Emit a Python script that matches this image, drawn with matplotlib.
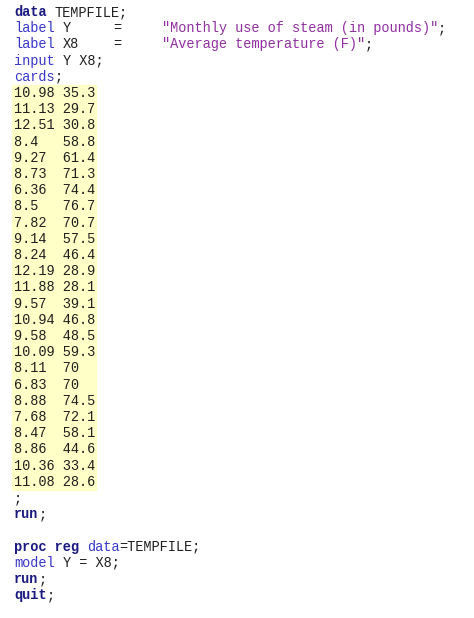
import matplotlib.pyplot as plt
from matplotlib.patches import Rectangle

# data values listed in the cards block
y_vals = ["10.98", "11.13", "12.51", "8.4", "9.27", "8.73", "6.36", "8.5", "7.82",
          "9.14", "8.24", "12.19", "11.88", "9.57", "10.94", "9.58", "10.09", "8.11",
          "6.83", "8.88", "7.68", "8.47", "8.86", "10.36", "11.08"]
x8_vals = ["35.3", "29.7", "30.8", "58.8", "61.4", "71.3", "74.4", "76.7", "70.7",
           "57.5", "46.4", "28.9", "28.1", "39.1", "46.8", "48.5", "59.3", "70",
           "70", "74.5", "72.1", "58.1", "44.6", "33.4", "28.6"]

NAVY = "#1a1a80"
BLUE = "#3838c8"
PURPLE = "#9030a0"
BLACK = "#202020"
CW = 8.1          # character width in pixels
X0 = 14
Y0 = 12
LH = 16.2
FS = 9.8
FONT = ["Liberation Mono", "DejaVu Sans Mono", "monospace"]

fig = plt.figure(figsize=(4.74, 6.18), dpi=100)
ax = fig.add_axes([0, 0, 1, 1])
ax.set_xlim(0, 474)
ax.set_ylim(618, 0)
ax.axis("off")


def put(line, segs):
    y = Y0 + LH * line
    for x, txt, color, bold in segs:
        ax.text(x, y, txt, color=color, fontsize=FS, family=FONT,
                fontweight="bold" if bold else "normal", va="center", ha="left")


put(0, [(X0, "data", NAVY, True), (X0 + 5 * CW, "TEMPFILE;", BLACK, False)])
put(1, [(X0, "label", BLUE, False), (X0 + 6 * CW, "Y", BLACK, False),
        (113, "=", BLACK, False), (162, '"Monthly use of steam (in pounds)"', PURPLE, False),
        (162 + 34 * CW, ";", BLACK, False)])
put(2, [(X0, "label", BLUE, False), (X0 + 6 * CW, "X8", BLACK, False),
        (113, "=", BLACK, False), (162, '"Average temperature (F)"', PURPLE, False),
        (162 + 25 * CW, ";", BLACK, False)])
put(3, [(X0, "input", BLUE, False), (X0 + 6 * CW, "Y X8;", BLACK, False)])
put(4, [(X0, "cards", BLUE, False), (X0 + 5 * CW, ";", BLACK, False)])

for i, (yv, xv) in enumerate(zip(y_vals, x8_vals)):
    yc = Y0 + LH * (5 + i)
    ax.add_patch(Rectangle((12, yc - LH / 2), 84, LH, color="#ffffc8", zorder=0))
    put(5 + i, [(X0, f"{yv:<5} {xv}", BLACK, False)])

put(30, [(X0, ";", BLACK, False)])
put(31, [(X0, "run", NAVY, True), (X0 + 3 * CW, ";", BLACK, False)])
put(33, [(X0, "proc reg", NAVY, True), (X0 + 9 * CW, "data", BLUE, False),
         (X0 + 13 * CW, "=TEMPFILE;", BLACK, False)])
put(34, [(X0, "model", BLUE, False), (X0 + 6 * CW, "Y = X8;", BLACK, False)])
put(35, [(X0, "run", NAVY, True), (X0 + 3 * CW, ";", BLACK, False)])
put(36, [(X0, "quit", NAVY, True), (X0 + 4 * CW, ";", BLACK, False)])

fig.savefig("out.png", dpi=100, facecolor="white")
